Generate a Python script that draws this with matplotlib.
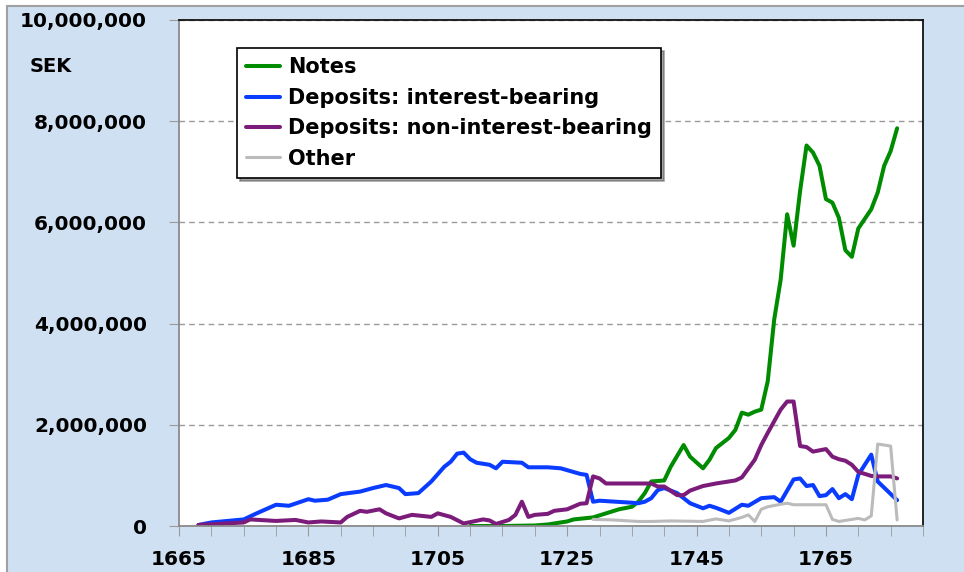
import matplotlib.pyplot as plt
from matplotlib.patches import Rectangle
from matplotlib.ticker import FuncFormatter

# Riksbank liabilities, SEK (values in millions)
notes_years = [1710, 1715, 1720, 1722, 1725, 1726, 1729, 1731, 1733, 1735, 1736, 1737,
               1738, 1740, 1741, 1743, 1744, 1746, 1747, 1748, 1750, 1751, 1752, 1753,
               1754, 1755, 1756, 1757, 1758, 1759, 1760, 1761, 1762, 1763, 1764, 1765,
               1766, 1767, 1768, 1769, 1770, 1772, 1773, 1774, 1775, 1776]
notes = [0.0, 0.0, 0.01, 0.03, 0.09, 0.13, 0.17, 0.25, 0.33, 0.38, 0.48, 0.65,
         0.88, 0.90, 1.17, 1.60, 1.37, 1.14, 1.31, 1.54, 1.74, 1.90, 2.24, 2.20,
         2.26, 2.30, 2.86, 4.08, 4.87, 6.16, 5.54, 6.62, 7.52, 7.38, 7.12, 6.46,
         6.39, 6.09, 5.45, 5.32, 5.88, 6.26, 6.59, 7.12, 7.41, 7.86]

int_years = [1668, 1670, 1675, 1677, 1680, 1682, 1685, 1686, 1688, 1690, 1693, 1695,
             1697, 1699, 1700, 1702, 1704, 1706, 1707, 1708, 1709, 1710, 1711, 1713,
             1714, 1715, 1718, 1719, 1722, 1724, 1727, 1728, 1729, 1730, 1735, 1736,
             1737, 1738, 1739, 1740, 1742, 1744, 1746, 1747, 1748, 1750, 1752, 1753,
             1755, 1757, 1758, 1760, 1761, 1762, 1763, 1764, 1765, 1766, 1767, 1768,
             1769, 1770, 1772, 1773, 1776]
dep_int = [0.02, 0.07, 0.13, 0.25, 0.42, 0.40, 0.53, 0.50, 0.52, 0.63, 0.68, 0.75,
           0.81, 0.75, 0.63, 0.65, 0.88, 1.17, 1.27, 1.43, 1.45, 1.32, 1.25, 1.21,
           1.14, 1.27, 1.25, 1.16, 1.16, 1.14, 1.03, 1.01, 0.48, 0.50, 0.46, 0.45,
           0.48, 0.55, 0.71, 0.75, 0.65, 0.45, 0.35, 0.40, 0.36, 0.26, 0.42, 0.40,
           0.55, 0.57, 0.48, 0.92, 0.94, 0.79, 0.81, 0.59, 0.61, 0.73, 0.55, 0.63,
           0.53, 1.01, 1.41, 0.88, 0.51]

nonint_years = [1668, 1675, 1676, 1680, 1683, 1685, 1687, 1690, 1691, 1693, 1694, 1696,
                1697, 1699, 1701, 1704, 1705, 1707, 1709, 1712, 1713, 1714, 1716, 1717,
                1718, 1719, 1720, 1722, 1723, 1725, 1727, 1728, 1729, 1730, 1731, 1737,
                1738, 1739, 1740, 1742, 1743, 1744, 1746, 1748, 1751, 1752, 1754, 1755,
                1756, 1758, 1759, 1760, 1761, 1762, 1763, 1765, 1766, 1767, 1768, 1769,
                1770, 1772, 1773, 1775, 1776]
dep_nonint = [0.02, 0.07, 0.13, 0.10, 0.12, 0.07, 0.09, 0.07, 0.18, 0.30, 0.28, 0.33,
              0.25, 0.15, 0.22, 0.18, 0.25, 0.18, 0.05, 0.13, 0.11, 0.04, 0.12, 0.22,
              0.48, 0.18, 0.22, 0.24, 0.30, 0.33, 0.44, 0.45, 0.98, 0.94, 0.84, 0.84,
              0.84, 0.78, 0.78, 0.61, 0.61, 0.70, 0.79, 0.84, 0.90, 0.96, 1.31, 1.60,
              1.84, 2.30, 2.46, 2.46, 1.58, 1.56, 1.47, 1.52, 1.37, 1.32, 1.29, 1.21,
              1.07, 0.99, 0.98, 0.98, 0.94]

other_years = [1729, 1732, 1736, 1738, 1741, 1746, 1748, 1750, 1752, 1753, 1754, 1755,
               1756, 1758, 1759, 1760, 1765, 1766, 1767, 1769, 1770, 1771, 1772, 1773,
               1774, 1775, 1776]
other = [0.13, 0.12, 0.09, 0.09, 0.10, 0.09, 0.14, 0.10, 0.17, 0.22, 0.09, 0.33,
         0.38, 0.43, 0.45, 0.42, 0.42, 0.13, 0.09, 0.13, 0.15, 0.12, 0.20, 1.62,
         1.60, 1.58, 0.12]

series = [
    ("Notes", notes_years, notes, "#008C00", 2.9),
    ("Deposits: interest-bearing", int_years, dep_int, "#0A3CFF", 2.9),
    ("Deposits: non-interest-bearing", nonint_years, dep_nonint, "#7B1C7B", 2.9),
    ("Other", other_years, other, "#BBBBBB", 2.2),
]

bg = "#CFE0F2"
fig = plt.figure(figsize=(9.64, 5.72), dpi=100, facecolor="white")
fig.patches.append(Rectangle((7 / 964, -0.1), 1.1, 1.1 - 6 / 572, transform=fig.transFigure,
                             facecolor=bg, edgecolor="#A0A0A0", lw=1.5, zorder=-10))
ax = fig.add_axes([179 / 964, 1 - 526 / 572, (923 - 179) / 964, (526 - 20) / 572])
ax.set_facecolor("white")

for label, yrs, vals, col, lw in series:
    ax.plot(yrs, [v * 1e6 for v in vals], color=col, lw=lw, label=label,
            solid_joinstyle="round", solid_capstyle="round")

ax.set_xlim(1665, 1780)
ax.set_ylim(0, 10e6)
ax.set_xticks(range(1665, 1781, 20))
ax.set_xticks(range(1665, 1781, 5), minor=True)
ax.set_yticks(range(0, 10000001, 2000000))
ax.yaxis.set_major_formatter(FuncFormatter(lambda v, p: f"{int(v):,}"))

ax.grid(axis="y", color="#9A9A9A", ls=(0, (4, 3)), lw=1)
ax.tick_params(axis="y", length=7, color="#9A9A9A", pad=16, labelsize=14.5)
ax.tick_params(axis="x", which="both", length=7, color="#9A9A9A", direction="out")
ax.tick_params(axis="x", which="major", pad=10, labelsize=14.5)
for lab in ax.get_xticklabels() + ax.get_yticklabels():
    lab.set_fontweight("bold")

for side in ["left", "bottom"]:
    ax.spines[side].set_color("#8A8A8A")
    ax.spines[side].set_linewidth(1.3)
for side in ["top", "right"]:
    ax.spines[side].set_color("#111111")
    ax.spines[side].set_linewidth(1.3)

fig.text(51 / 964, 1 - 67 / 572, "SEK", ha="center", va="center", fontsize=14, fontweight="bold")

leg = ax.legend(loc="upper left", bbox_to_anchor=(237 / 964, 1 - 48 / 572),
                bbox_transform=fig.transFigure, frameon=True, fancybox=False, shadow=True,
                prop={"weight": "bold", "size": 15}, handlelength=1.6, handletextpad=0.4,
                labelspacing=0.5, borderpad=0.45, borderaxespad=0)
leg.get_frame().set_edgecolor("black")
leg.get_frame().set_linewidth(1.2)

fig.savefig("out.png", dpi=100, facecolor=fig.get_facecolor())
